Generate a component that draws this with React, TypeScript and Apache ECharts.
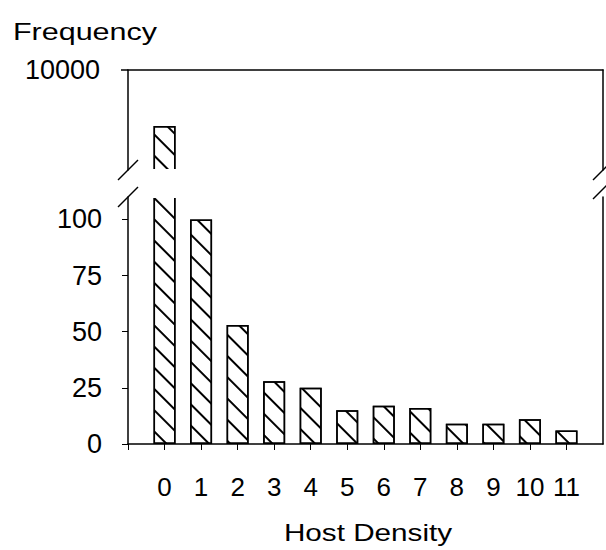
import React, { useEffect, useRef } from "react";
import * as echarts from "echarts";

const categories = [0, 1, 2, 3, 4, 5, 6, 7, 8, 9, 10, 11];
const frequency = [4460, 100, 53, 28, 25, 15, 17, 16, 9, 9, 11, 6];
const xTickValues = [-1, 0, 1, 2, 3, 4, 5, 6, 7, 8, 9, 10, 11];
const lowerYTicks = [0, 25, 50, 75, 100];
const upperYTicks = [10000];

const LEFT = 128;
const RIGHT_X = 603;
const UP_TOP = 70;
const UP_BOTTOM = 170;
const LOW_TOP = 197;
const LOW_BOTTOM = 444;
const W = 606;
const H = 550;

const tickFont = {
  fontFamily: "Liberation Sans, Arial, sans-serif",
  fontSize: 27,
  color: "#000",
};

export default function App() {
  const ref = useRef<HTMLDivElement>(null);
  useEffect(() => {
    if (!ref.current) return;
    const chart = echarts.init(ref.current, null, { renderer: "svg" });
    const pairs = categories.map((c, i) => [c, frequency[i]]);
    const decal = {
      symbol: "rect",
      symbolSize: 1,
      dashArrayX: [1, 0],
      dashArrayY: [1.6, 12.5],
      rotation: Math.PI / 4,
      color: "#000",
      backgroundColor: "#fff",
    };
    const barStyle = {
      color: "#fff",
      borderColor: "#000",
      borderWidth: 1.5,
      decal,
    };
    const lineStyle = { color: "#000", width: 1.5 };
    const plain = (v: number) => String(v);
    const slash = (x: number, y: number) => ({
      type: "line",
      z: 101,
      shape: { x1: x - 10, y1: y + 10, x2: x + 10, y2: y - 10 },
      style: { stroke: "#000", lineWidth: 1.5 },
    });
    chart.setOption({
      animation: false,
      backgroundColor: "#fff",
      grid: [
        { left: LEFT, right: W - RIGHT_X, top: UP_TOP, height: UP_BOTTOM - UP_TOP },
        { left: LEFT, right: W - RIGHT_X, top: LOW_TOP, height: LOW_BOTTOM - LOW_TOP },
      ],
      xAxis: [
        {
          type: "value",
          gridIndex: 0,
          position: "top",
          min: -1,
          max: 12,
          interval: 1,
          axisLine: { show: true, onZero: false, lineStyle },
          axisTick: { show: false },
          axisLabel: { show: false },
          splitLine: { show: false },
        },
        {
          type: "value",
          gridIndex: 1,
          position: "bottom",
          min: -1,
          max: 12,
          interval: 1,
          axisLine: { show: true, onZero: false, lineStyle },
          axisTick: {
            show: true,
            length: 6,
            customValues: xTickValues,
            lineStyle: { color: "#000", width: 1 },
          },
          axisLabel: {
            show: true,
            margin: 30,
            customValues: categories,
            formatter: plain,
            ...tickFont,
            fontSize: 26,
          },
          splitLine: { show: false },
        },
      ],
      yAxis: [
        {
          type: "value",
          gridIndex: 0,
          position: "left",
          min: 110,
          max: 10000,
          axisLine: { show: true, onZero: false, lineStyle },
          axisTick: {
            show: true,
            length: 7,
            customValues: upperYTicks,
            lineStyle: { color: "#000", width: 1.5 },
          },
          axisLabel: {
            show: true,
            margin: 28,
            customValues: upperYTicks,
            formatter: plain,
            ...tickFont,
          },
          splitLine: { show: false },
        },
        {
          type: "value",
          gridIndex: 0,
          position: "right",
          min: 0,
          max: 1,
          axisLine: { show: true, onZero: false, lineStyle },
          axisTick: { show: false },
          axisLabel: { show: false },
          splitLine: { show: false },
        },
        {
          type: "value",
          gridIndex: 1,
          position: "left",
          min: 0,
          max: 110,
          axisLine: { show: true, onZero: false, lineStyle },
          axisTick: {
            show: true,
            length: 6,
            customValues: lowerYTicks,
            lineStyle: { color: "#000", width: 1 },
          },
          axisLabel: {
            show: true,
            margin: 26,
            customValues: lowerYTicks,
            formatter: plain,
            ...tickFont,
          },
          splitLine: { show: false },
        },
        {
          type: "value",
          gridIndex: 1,
          position: "right",
          min: 0,
          max: 1,
          axisLine: { show: true, onZero: false, lineStyle },
          axisTick: { show: false },
          axisLabel: { show: false },
          splitLine: { show: false },
        },
      ],
      series: [
        {
          type: "bar",
          xAxisIndex: 0,
          yAxisIndex: 0,
          data: pairs,
          barWidth: 22,
          clip: true,
          itemStyle: barStyle,
        },
        {
          type: "bar",
          xAxisIndex: 1,
          yAxisIndex: 2,
          data: pairs,
          barWidth: 22,
          clip: true,
          itemStyle: barStyle,
        },
      ],
      graphic: [
        {
          type: "rect",
          z: 100,
          shape: { x: LEFT + 6, y: UP_BOTTOM - 1, width: RIGHT_X - LEFT - 12, height: LOW_TOP - UP_BOTTOM + 2 },
          style: { fill: "#fff" },
        },
        slash(LEFT, UP_BOTTOM),
        slash(LEFT, LOW_TOP),
        slash(RIGHT_X, UP_BOTTOM),
        slash(RIGHT_X, LOW_TOP - 8),
        {
          type: "text",
          z: 101,
          x: 13,
          y: 32,
          scaleX: 1.27,
          style: {
            text: "Frequency",
            fontFamily: "Liberation Sans, Arial, sans-serif",
            fontSize: 24,
            fill: "#000",
            textAlign: "left",
            textVerticalAlign: "middle",
          },
        },
        {
          type: "text",
          z: 101,
          x: 368,
          y: 533,
          scaleX: 1.29,
          style: {
            text: "Host Density",
            fontFamily: "Liberation Sans, Arial, sans-serif",
            fontSize: 23,
            fill: "#000",
            textAlign: "center",
            textVerticalAlign: "middle",
          },
        },
      ],
    });
    return () => chart.dispose();
  }, []);
  return (
    <div
      ref={ref}
      style={{ width: W, height: H, position: "absolute", left: 0, top: 0 }}
    />
  );
}
